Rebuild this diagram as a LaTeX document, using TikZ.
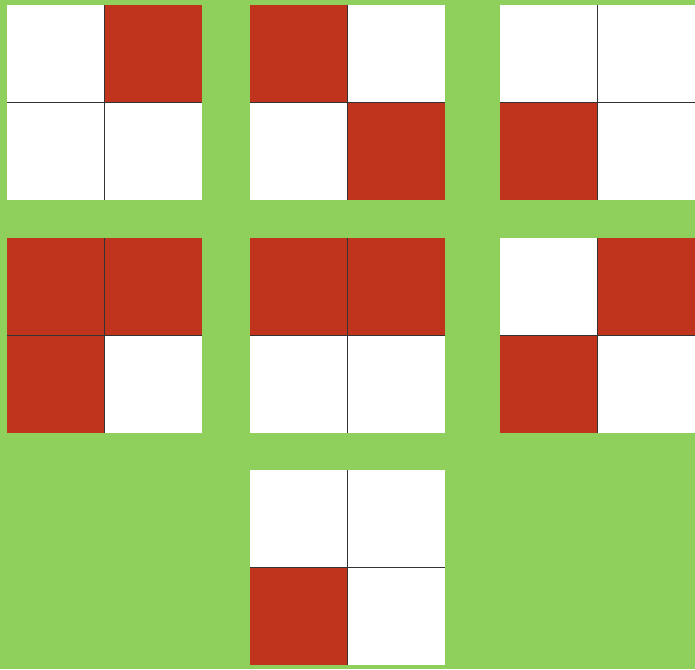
\documentclass[tikz,border=0pt]{standalone}
\definecolor{bg}{RGB}{143,208,92}
\definecolor{cellred}{RGB}{192,52,30}
\tikzset{
  W/.style={fill=white},
  R/.style={fill=cellred},
  divider/.style={draw=black!80,line width=0.9pt}
}
\newcommand{\gridcell}[3]{\fill[#3] (#1,#2) rectangle ++(97.5,97.5);}
\newcommand{\fourgrid}[6]{%
  \gridcell{#1}{#2}{#3}
  \gridcell{#1+97.5}{#2}{#4}
  \gridcell{#1}{#2+97.5}{#5}
  \gridcell{#1+97.5}{#2+97.5}{#6}
  \draw[divider] (#1+97.5,#2) -- (#1+97.5,#2+195);
  \draw[divider] (#1,#2+97.5) -- (#1+195,#2+97.5);
}
\begin{document}
\begin{tikzpicture}[x=1pt,y=-1pt]
\fill[bg] (0,0) rectangle (695,669);
\useasboundingbox (0,0) rectangle (695,669);
\fourgrid{7}{5}{W}{R}{W}{W}
\fourgrid{250}{5}{R}{W}{W}{R}
\fourgrid{500}{5}{W}{W}{R}{W}
\fourgrid{7}{238}{R}{R}{R}{W}
\fourgrid{250}{238}{R}{R}{W}{W}
\fourgrid{500}{238}{W}{R}{R}{W}
\fourgrid{250}{470}{W}{W}{R}{W}
\end{tikzpicture}
\end{document}
